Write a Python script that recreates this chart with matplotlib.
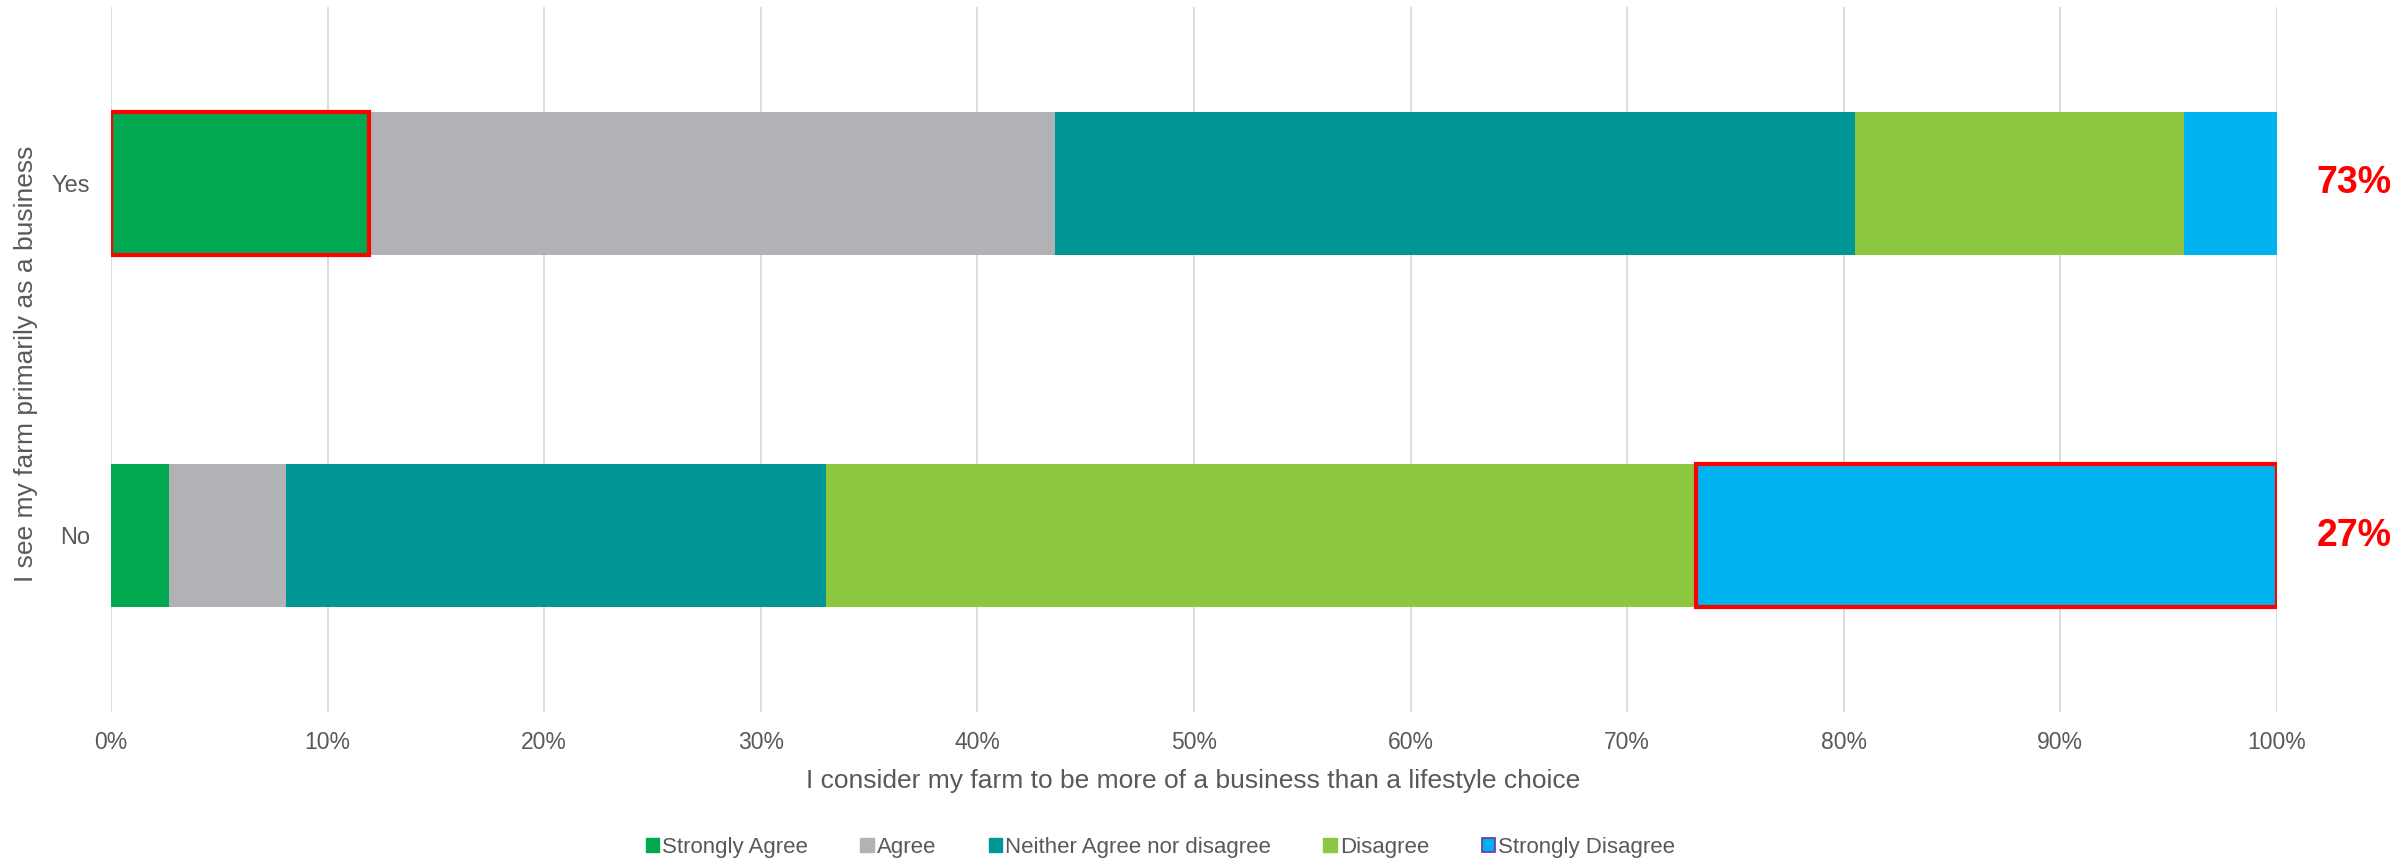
import numpy as np
import matplotlib.pyplot as plt
from matplotlib.patches import Patch

plt.rcParams['font.family'] = ['Liberation Sans', 'DejaVu Sans']

# ---------------------------------------------------------------------------
# DATA  (share of respondents, %)
# ---------------------------------------------------------------------------
groups = ["No", "Yes"]
responses = ["Strongly Agree", "Agree", "Neither Agree nor disagree",
             "Disagree", "Strongly Disagree"]

strongly_agree = [2.7, 11.9]
agree = [5.4, 31.7]
neither = [24.9, 36.9]
disagree = [40.2, 15.2]
strongly_disagree = [26.8, 4.3]

group_share = ["27%", "73%"]

colors = ["#00A94F", "#B1B2B5", "#009696", "#8DC63F", "#00B3F0"]

# segments outlined in red: (group index, response index)
highlight = [(1, 0), (0, 4)]

# ---------------------------------------------------------------------------
# PLOT
# ---------------------------------------------------------------------------
grey = "#595959"
fig = plt.figure(figsize=(24.05, 8.63), dpi=100)
ax = fig.add_axes([0.04615, 0.175, 0.9006, 0.8169])

series = [strongly_agree, agree, neither, disagree, strongly_disagree]
y = np.arange(len(groups))
left = np.zeros(len(groups))
for j, vals in enumerate(series):
    vals = np.array(vals)
    bars = ax.barh(y, vals, left=left, height=0.405, color=colors[j],
                   zorder=2)
    for i, b in enumerate(bars):
        if (i, j) in highlight:
            b.set_edgecolor("red")
            b.set_linewidth(3)
            b.set_zorder(3)
    left += vals

ax.set_xlim(0, 100)
ax.set_ylim(-0.5, 1.5)
ax.set_xticks(np.arange(0, 101, 10))
ax.set_xticklabels([f"{t}%" for t in range(0, 101, 10)])
ax.set_yticks(y)
ax.set_yticklabels(groups)
ax.tick_params(axis="x", length=0, pad=14, labelsize=16.5, labelcolor=grey)
ax.tick_params(axis="y", length=0, pad=15, labelsize=17, labelcolor=grey)
ax.grid(axis="x", color="#D9D9D9", linewidth=1.3, zorder=0)
for s in ax.spines.values():
    s.set_visible(False)

for i, txt in enumerate(group_share):
    ax.text(1.0356, y[i], txt, transform=ax.get_yaxis_transform(),
            ha="center", va="center", color="red", fontsize=27,
            fontweight="bold")

fig.text(0.496, 0.095, "I consider my farm to be more of a business than a lifestyle choice",
         ha="center", va="center", fontsize=19, color=grey)
fig.text(0.0108, 0.578, "I see my farm primarily as a business", rotation=90,
         ha="center", va="center", fontsize=19, color=grey)

handles = [Patch(facecolor=c, edgecolor=c) for c in colors]
handles[-1] = Patch(facecolor=colors[-1], edgecolor="#7030A0", linewidth=1.2)
fig.legend(handles, responses, loc="center", bbox_to_anchor=(0.4825, 0.0185),
           ncol=5, frameon=False, fontsize=16, handlelength=0.6,
           handleheight=0.6, handletextpad=0.15, columnspacing=2.35,
           labelcolor=grey)

plt.savefig("out.png", dpi=100)
